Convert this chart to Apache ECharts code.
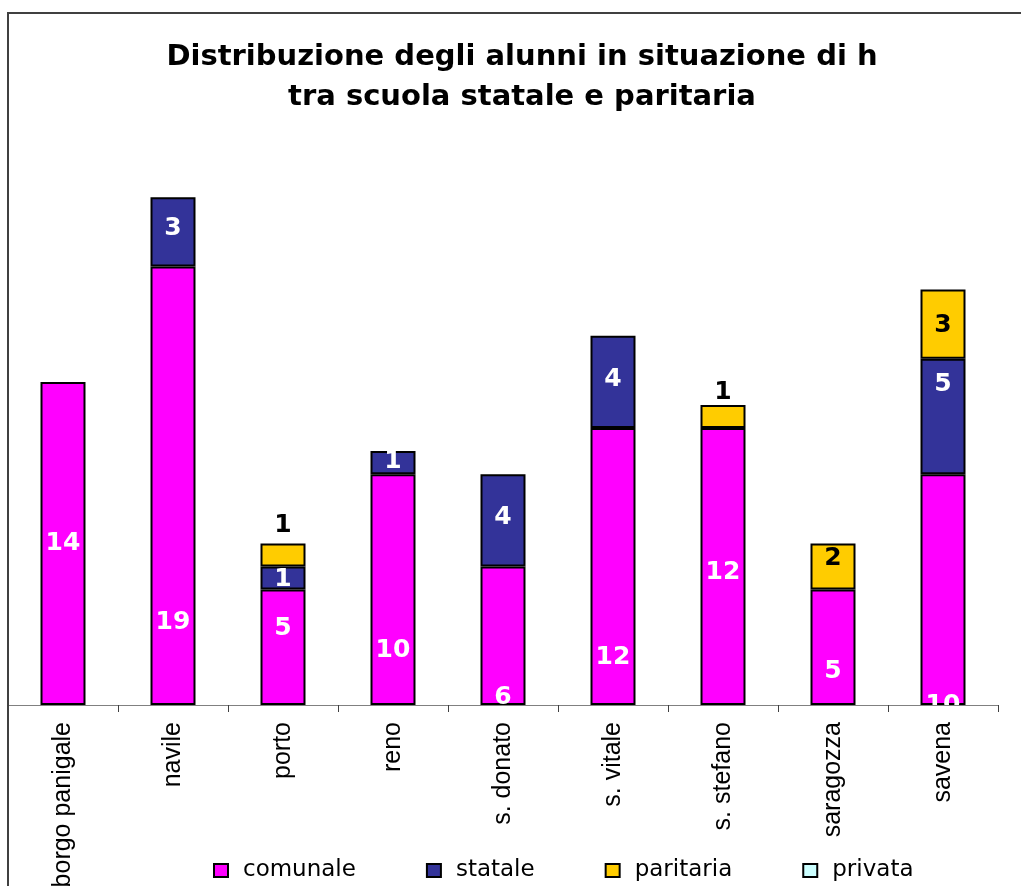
<!DOCTYPE html>
<html>
<head>
<meta charset="utf-8">
<script src="https://cdn.jsdelivr.net/npm/echarts@6/dist/echarts.min.js"></script>
<style>
  html, body { margin: 0; padding: 0; background: #fff; }
  #chart { width: 1021px; height: 886px; }
</style>
</head>
<body>
<div id="chart"></div>
<script>
// Quartieri e numero di alunni per tipo di scuola
const categories = ['borgo panigale', 'navile', 'porto', 'reno', 's. donato', 's. vitale', 's. stefano', 'saragozza', 'savena'];
const comunale  = [14, 19, 5, 10, 6, 12, 12, 5, 10];
const statale   = [0, 3, 1, 1, 4, 4, 0, 0, 5];
const paritaria = [0, 0, 1, 0, 0, 0, 1, 2, 3];
const privata   = [0, 0, 0, 0, 0, 0, 0, 0, 0];
const seriesNames = ['comunale', 'statale', 'paritaria', 'privata'];

// Vertical nudge (px) of each value label from the centre of its segment
const labelNudge = {
  comunale:  [-1, 136, -20, 60, 61, 90, 5, 23, 115],
  statale:   [0, -4, 0, -2, -4, -3, 0, 0, -33],
  paritaria: [0, 0, -30, 0, 0, 0, -25, -9, 0],
  privata:   [0, 0, 0, 0, 0, 0, 0, 0, 0]
};
// small baseline correction for the label font
const labelBaseline = 1;

const palette = {
  comunale:  { fill: '#FF00FF', text: '#FFFFFF' },
  statale:   { fill: '#333399', text: '#FFFFFF' },
  paritaria: { fill: '#FFCC00', text: '#000000' },
  privata:   { fill: '#CCFFFF', text: '#000000' }
};

const valuesByName = { comunale, statale, paritaria, privata };

function buildData(values, nudges) {
  return values.map((v, i) => {
    if (!v) return { value: '-' };
    return { value: v, label: { offset: [0, nudges[i] + labelBaseline] } };
  });
}

const series = seriesNames.map(name => ({
  name: name,
  type: 'bar',
  stack: 'alunni',
  barWidth: 45,
  data: buildData(valuesByName[name], labelNudge[name]),
  itemStyle: { color: palette[name].fill, borderColor: '#000', borderWidth: 2 },
  label: {
    show: true,
    position: 'inside',
    color: palette[name].text,
    fontFamily: 'DejaVu Sans',
    fontWeight: 'bold',
    fontSize: 25,
    formatter: p => String(p.value)
  },
  emphasis: { disabled: true }
}));

const chart = echarts.init(document.getElementById('chart'));
chart.setOption({
  animation: false,
  backgroundColor: '#fff',
  title: {
    text: 'Distribuzione degli alunni in situazione di h\ntra scuola statale e paritaria',
    left: 522,
    top: 37,
    padding: 0,
    textAlign: 'center',
    textStyle: {
      fontFamily: 'DejaVu Sans',
      fontWeight: 'bold',
      fontSize: 29,
      lineHeight: 40,
      color: '#000'
    }
  },
  legend: {
    data: seriesNames,
    left: 213,
    top: 859,
    padding: 0,
    icon: 'rect',
    itemWidth: 14,
    itemHeight: 13,
    itemGap: 70,
    textStyle: { fontFamily: 'DejaVu Sans', fontSize: 23, color: '#000', padding: [0, 0, 0, 10] },
    itemStyle: { borderColor: '#000', borderWidth: 2 }
  },
  grid: { left: 8, right: 23, top: 128, bottom: 181, containLabel: false, outerBoundsMode: 'none' },
  xAxis: {
    type: 'category',
    data: categories,
    z: 7,
    axisLine: { show: true, lineStyle: { color: '#808080', width: 1 } },
    axisTick: { show: true, length: 7, lineStyle: { color: '#404040', width: 1 } },
    axisLabel: {
      rotate: 90,
      margin: 17,
      fontFamily: 'Liberation Sans',
      fontSize: 25,
      color: '#000',
      interval: 0
    }
  },
  yAxis: { type: 'value', min: 0, max: 25, show: false },
  graphic: [
    // white band under the axis line so labels sitting on it are cut off there
    { type: 'rect', z: 5, silent: true, shape: { x: 9, y: 706, width: 992, height: 12 }, style: { fill: '#fff' } },
    // chart frame (left and top edges)
    { type: 'polyline', z: 10, silent: true, shape: { points: [[8, 886], [8, 13], [1021, 13]] }, style: { stroke: '#404040', lineWidth: 2, fill: null } }
  ],
  series: series
});
</script>
</body>
</html>
